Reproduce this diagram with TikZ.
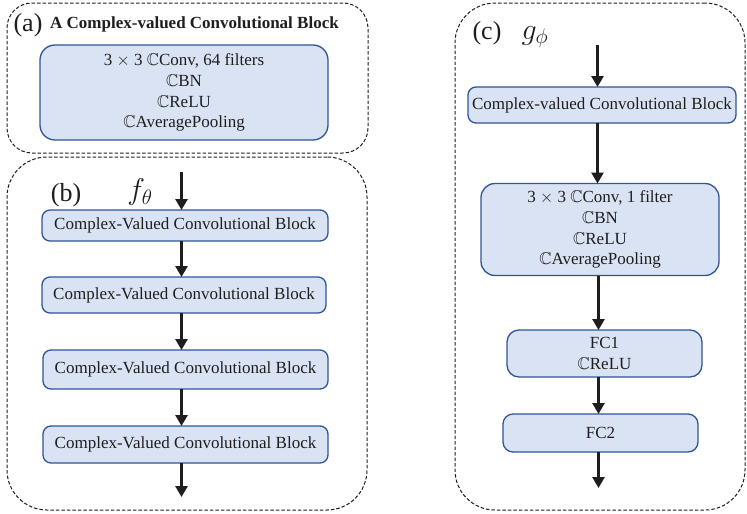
\RequirePackage{fix-cm}
\documentclass[tikz,border=0pt]{standalone}
\usepackage{amssymb}
\usepackage{fontspec}
\setmainfont{Liberation Serif}
\usetikzlibrary{arrows.meta,calc}

\definecolor{blockfill}{HTML}{DAE3F3}
\definecolor{blockline}{HTML}{2F5597}
\definecolor{ink}{HTML}{1E1E1E}

\newcommand{\CC}{$\mathbb{C}$}

\begin{document}
\begin{tikzpicture}[x=1pt,y=-1pt,
  frame/.style={draw=ink, line width=1pt, dash pattern=on 3.5pt off 2pt,
    rounded corners=#1, inner sep=0pt, outer sep=0pt},
  frame/.default=30pt,
  block/.style={draw=blockline, fill=blockfill, line width=1.3pt,
    rounded corners=#1, inner sep=0pt, outer sep=0pt, align=center,
    font=\fontsize{17}{20.7}\selectfont, text=ink},
  block/.default=8pt,
  flow/.style={line width=3.2pt, draw=ink, -{Triangle[length=11pt,width=12pt]}},
  tag/.style={font=\fontsize{26}{26}\selectfont, text=ink, inner sep=0pt},
  sym/.style={font=\fontsize{30}{30}\selectfont, text=ink, inner sep=0pt},
]
\useasboundingbox (0,0) rectangle (747,514);

% ---------- (a) the complex-valued convolutional block ----------
\node[frame=25pt, minimum width=361pt, minimum height=150pt] (frameA) at (187.5,78) {};
\node[tag] (labA) at (28,25) {(a)};
\node[font=\bfseries\fontsize{17}{19}\selectfont, text=ink, anchor=west, inner sep=0pt]
  (titleA) at (50,24) {A Complex-valued Convolutional Block};
\node[block=15pt, minimum width=288pt, minimum height=95pt] (blkA) at (184,92.5)
  {3 $\times$ 3 \CC Conv, 64 filters\\ \CC BN\\ \CC ReLU\\ \CC AveragePooling};

% ---------- (b) f_theta ----------
\node[frame=40pt, minimum width=360pt, minimum height=353pt] (frameB) at (187,333.5) {};
\node[tag] (labB) at (66,195) {(b)};
\node[sym] (fth) at (140,192) {$f_\theta$};
\coordinate (bin) at (181.5,172);
\coordinate (bout) at (181.5,497);
\node[block, minimum width=286pt, minimum height=31pt] (b1) at (185,225.5) {Complex-Valued Convolutional Block};
\node[block, minimum width=284pt, minimum height=36pt] (b2) at (184,295) {Complex-Valued Convolutional Block};
\node[block, minimum width=285pt, minimum height=39pt] (b3) at (185.5,369.5) {Complex-Valued Convolutional Block};
\node[block, minimum width=285pt, minimum height=37pt] (b4) at (185.5,444.5) {Complex-Valued Convolutional Block};
\draw[flow] (bin) -- (bin |- b1.north);
\draw[flow] (b1.south -| bin) -- (b2.north -| bin);
\draw[flow] (b2.south -| bin) -- (b3.north -| bin);
\draw[flow] (b3.south -| bin) -- (b4.north -| bin);
\draw[flow] (b4.south -| bin) -- (bout);

% ---------- (c) g_phi ----------
\node[frame=40pt, minimum width=290pt, minimum height=507pt] (frameC) at (600,256.5) {};
\node[tag] (labC) at (487,33) {(c)};
\node[sym] (gph) at (535,37) {$g_\phi$};
\coordinate (cin) at (597.5,45);
\coordinate (cout) at (598.5,488);
\node[block, minimum width=268pt, minimum height=36pt] (c1) at (602,105) {Complex-valued Convolutional Block};
\node[block=14pt, minimum width=238pt, minimum height=92pt] (c2) at (600,229.5)
  {3 $\times$ 3 \CC Conv, 1 filter\\ \CC BN\\ \CC ReLU\\ \CC AveragePooling};
\node[block=12pt, minimum width=195pt, minimum height=47pt] (fc1) at (604.5,353.5) {FC1\\ \CC ReLU};
\node[block=10pt, minimum width=195pt, minimum height=38pt] (fc2) at (600.5,433) {FC2};
\draw[flow] (cin) -- (cin |- c1.north);
\draw[flow] (c1.south -| cin) -- (c2.north -| cin);
\draw[flow] (c2.south -| cout) -- (fc1.north -| cout);
\draw[flow] (fc1.south -| cout) -- (fc2.north -| cout);
\draw[flow] (fc2.south -| cout) -- (cout);
\end{tikzpicture}
\end{document}
